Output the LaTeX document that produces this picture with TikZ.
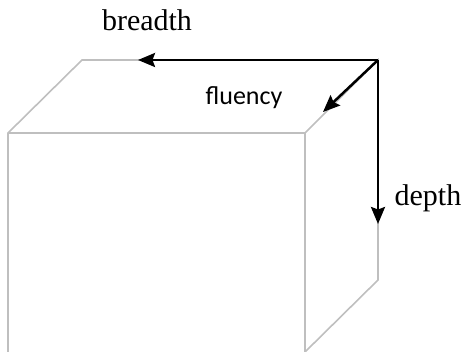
\documentclass[tikz,border=0pt]{standalone}
\usepackage{fontspec}
\setmainfont{Liberation Serif}
\newfontfamily\calibfont{Carlito}
\usetikzlibrary{arrows.meta}
\tikzset{
  cubeedge/.style={draw=black!25, line width=1.6pt, line join=miter},
  axisarrow/.style={draw=black, line width=2.5pt, -{Stealth[length=17pt,width=14pt,inset=2.5pt]}},
  serlabel/.style={font=\fontsize{30}{30}\selectfont, inner sep=0pt, anchor=base},
  sanslabel/.style={font=\calibfont\fontsize{26}{26}\selectfont, inner sep=0pt, anchor=base}
}
\begin{document}
\begin{tikzpicture}[x=1pt,y=-1pt]
\useasboundingbox (0,0) rectangle (464,352);
% cube corners
\coordinate (A) at (82,60);
\coordinate (B) at (378,60);
\coordinate (C) at (8,133);
\coordinate (D) at (305,133);
\coordinate (E) at (8,354);
\coordinate (F) at (305,352);
\coordinate (G) at (378,280);
\draw[cubeedge] (E) -- (C) -- (A) -- (B);
\draw[cubeedge] (C) -- (D) -- (F);
\draw[cubeedge] (D) -- (B) -- (G) -- (F);
% arrow ends
\coordinate (bend) at (138,60);
\coordinate (fend) at (323,112);
\coordinate (dend) at (378,224);
\draw[axisarrow] (B) -- (bend);
\draw[axisarrow] (B) -- (fend);
\draw[axisarrow] (B) -- (dend);
% labels
\node[serlabel] (lb) at (147,31) {breadth};
\node[sanslabel] (lf) at (244,105) {fluency};
\node[serlabel] (ld) at (428,206) {depth};
\end{tikzpicture}
\end{document}
